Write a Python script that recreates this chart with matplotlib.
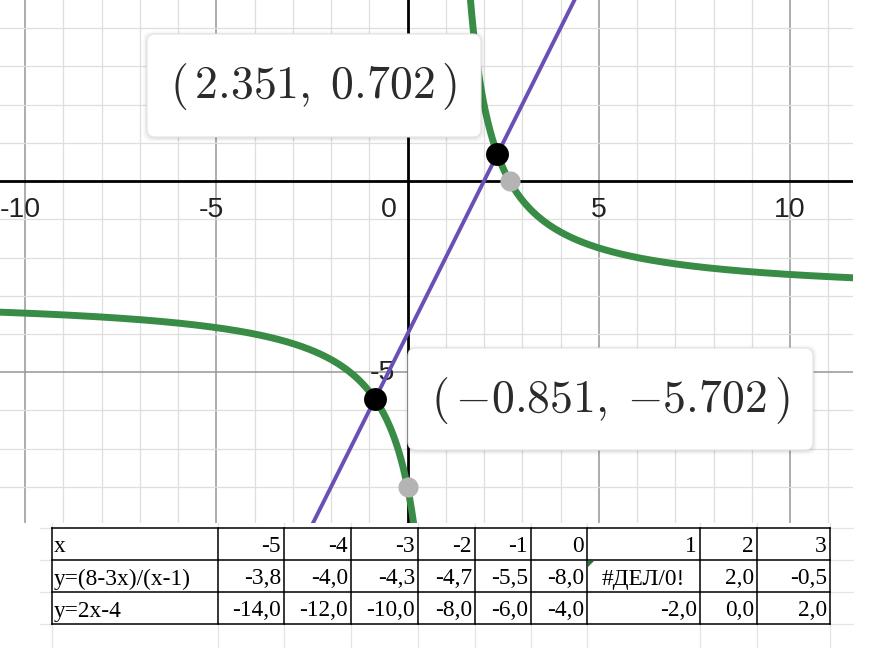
import numpy as np
import matplotlib
matplotlib.use("Agg")
import matplotlib.pyplot as plt
from matplotlib.patches import FancyBboxPatch, Polygon

plt.rcParams['mathtext.fontset'] = 'cm'

# ---------------- data ----------------
# curve y = (a0 + a1*x) / (b0 + b1*x)  and line y = k*x + m (from the table headers)
curve_num = (8.0, -3.0)
curve_den = (-1.0, 1.0)
line_k, line_m = 2.0, -4.0

# intersection points (labelled) and curve intercepts (grey points)
inter_x = [2.351, -0.851]
inter_y = [0.702, -5.702]
icpt_x = [2.667, 0.0]
icpt_y = [0.0, -8.0]

xticks_major = [-10, -5, 0, 5, 10]
yticks_major = [-5]

# table data
tbl_x = [-5, -4, -3, -2, -1, 0, 1, 2, 3]
tbl_y1 = [-3.8, -4.0, -4.3, -4.7, -5.5, -8.0, None, 2.0, -0.5]
tbl_y2 = [-14.0, -12.0, -10.0, -8.0, -6.0, -4.0, -2.0, 0.0, 2.0]
tbl_rows = ["x", "y=(8-3x)/(x-1)", "y=2x-4"]
tbl_err = "#ДЕЛ/0!"

# ---------------- figure ----------------
W, H = 888, 648
fig = plt.figure(figsize=(W / 100, H / 100), dpi=100)
fig.patch.set_facecolor('white')

gx0, gx1, gy0, gy1 = 0, 853, 0, 523   # graph region in pixels
ax = fig.add_axes([gx0 / W, 1 - gy1 / H, (gx1 - gx0) / W, (gy1 - gy0) / H])
scale = 38.25
ox, oy = 407.5, 181.0
ax.set_xlim((gx0 - ox) / scale, (gx1 - ox) / scale)
ax.set_ylim(-(gy1 - oy) / scale, (oy - gy0) / scale)
ax.set_axis_off()

xmin, xmax = ax.get_xlim()
ymin, ymax = ax.get_ylim()
for v in range(int(np.floor(xmin)), int(np.ceil(xmax)) + 1):
    if v == 0:
        continue
    major = v % 5 == 0
    ax.axvline(v, color='#969696' if major else '#dedede', lw=1.1 if major else 0.9, zorder=1)
for v in range(int(np.floor(ymin)), int(np.ceil(ymax)) + 1):
    if v == 0:
        continue
    major = v % 5 == 0
    ax.axhline(v, color='#969696' if major else '#dedede', lw=1.1 if major else 0.9, zorder=1)
ax.axhline(0, color='black', lw=2.0, zorder=2)
ax.axvline(0, color='black', lw=2.0, zorder=2)

lab_kw = dict(fontsize=20.5, family='Liberation Sans', color='#222222', zorder=2.5)
for t in xticks_major:
    s = str(t)
    if t == 0:
        ax.annotate('0', (0, 0), xytext=(-13.5, -26), textcoords='offset points',
                    ha='center', va='baseline', **lab_kw)
    else:
        dx = -3.45 if t < 0 else 0
        ax.annotate(s, (t, 0), xytext=(dx, -26), textcoords='offset points',
                    ha='center', va='baseline', **lab_kw)
for t in yticks_major:
    ax.annotate(str(t), (0, t), xytext=(-8.6, -5.3), textcoords='offset points',
                ha='right', va='baseline', **lab_kw)

# curve
pole = -curve_den[0] / curve_den[1]
for a, b in [(xmin, pole - 1e-3), (pole + 1e-3, xmax)]:
    xs = np.linspace(a, b, 2000)
    ys = (curve_num[0] + curve_num[1] * xs) / (curve_den[0] + curve_den[1] * xs)
    ys = np.where((ys > ymax + 5) | (ys < ymin - 5), np.nan, ys)
    ax.plot(xs, ys, color='#388c46', lw=5.0, solid_capstyle='round', zorder=3)

# line
xs = np.array([xmin, xmax])
ax.plot(xs, line_k * xs + line_m, color='#6a4fb5', lw=2.8, zorder=4)

ax.plot(icpt_x, icpt_y, 'o', ms=14.5, color='#b4b4b4', mec='none', zorder=5)
ax.plot(inter_x, inter_y, 'o', ms=16.5, color='black', mec='none', zorder=6)

# ---------------- overlay (labels + table) ----------------
ov = fig.add_axes([0, 0, 1, 1], zorder=10)
ov.set_xlim(0, W)
ov.set_ylim(H, 0)
ov.set_axis_off()
ov.patch.set_alpha(0)


def label_box(x0, y0, x1, y1, text):
    for i, a in enumerate([0.05, 0.04, 0.03]):
        d = 1.5 + i * 1.5
        ov.add_patch(FancyBboxPatch((x0 - d + 1, y0 - d + 2), x1 - x0 + 2 * d - 2, y1 - y0 + 2 * d - 2,
                                    boxstyle='round,pad=0,rounding_size=9',
                                    fc='black', ec='none', alpha=a, zorder=1))
    ov.add_patch(FancyBboxPatch((x0, y0), x1 - x0, y1 - y0,
                                boxstyle='round,pad=0,rounding_size=8',
                                fc='white', ec='#e4e4e4', lw=0.8, zorder=2))
    ov.text((x0 + x1) / 2, (y0 + y1) / 2 + 1, text, ha='center', va='center',
            fontsize=33, color='#2b2b2b', zorder=3)


def coord_text(px, py):
    return r'$(\,{%.3f},\;{%.3f}\,)$' % (px, py)


label_box(147, 34, 481, 137, coord_text(inter_x[0], inter_y[0]))
label_box(408, 348, 813, 450, coord_text(inter_x[1], inter_y[1]))

# table
col_edges = [52, 218, 284, 351, 418, 475, 531, 587, 700, 757, 830]
row_edges = [528, 560, 592, 624]

faint = '#e4e4e4'
for c in col_edges:
    ov.plot([c, c], [row_edges[-1], H], color=faint, lw=0.9, zorder=0)
    ov.plot([c, c], [gy1, row_edges[0]], color=faint, lw=0.9, zorder=0)
for r in row_edges:
    ov.plot([40, col_edges[0]], [r, r], color=faint, lw=0.9, zorder=0)
    ov.plot([col_edges[-1], 853], [r, r], color=faint, lw=0.9, zorder=0)

ov.add_patch(plt.Rectangle((col_edges[0], row_edges[0]), col_edges[-1] - col_edges[0],
                           row_edges[-1] - row_edges[0], fc='white', ec='none', zorder=0.5))
for c in col_edges:
    ov.plot([c, c], [row_edges[0], row_edges[-1]], color='black', lw=1.1, zorder=2)
for r in row_edges:
    ov.plot([col_edges[0], col_edges[-1]], [r, r], color='black', lw=1.1, zorder=2)

tkw = dict(fontsize=16.8, family='Liberation Serif', color='black', va='baseline', zorder=3)


def fmt(v):
    return ('%.1f' % v).replace('.', ',')


for i, name in enumerate(tbl_rows):
    ov.text(col_edges[0] + 2, row_edges[i + 1] - 7.5, name, ha='left', **tkw)
for j in range(len(tbl_x)):
    xr = col_edges[j + 2] - 3
    ov.text(xr, row_edges[1] - 7.5, str(tbl_x[j]), ha='right', **tkw)
    if tbl_y1[j] is None:
        xc = (col_edges[j + 1] + col_edges[j + 2]) / 2
        ov.text(xc, row_edges[2] - 7.5, tbl_err, ha='center', **tkw)
        cx, cy = col_edges[j + 1], row_edges[1]
        ov.add_patch(Polygon([[cx + 1, cy + 1], [cx + 7, cy + 1], [cx + 1, cy + 7]],
                             closed=True, fc='#217a3a', ec='none', zorder=3))
    else:
        ov.text(xr, row_edges[2] - 7.5, fmt(tbl_y1[j]), ha='right', **tkw)
    ov.text(xr, row_edges[3] - 7.5, fmt(tbl_y2[j]), ha='right', **tkw)

fig.savefig('out.png', dpi=100, facecolor='white')
